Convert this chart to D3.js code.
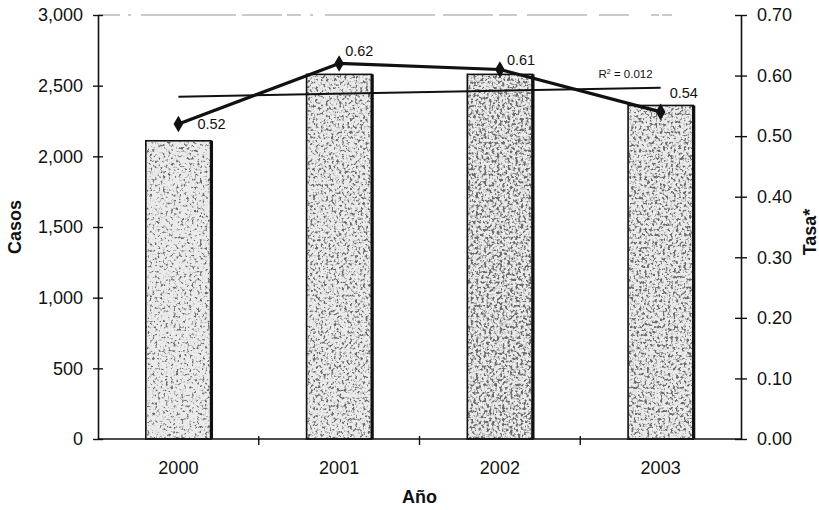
<!DOCTYPE html>
<html>
<head>
<meta charset="utf-8">
<script src="https://cdn.jsdelivr.net/npm/d3@7/dist/d3.min.js"></script>
<style>
  html, body { margin: 0; padding: 0; background: #fff; }
  svg { display: block; }
  text { font-family: "Liberation Sans", Arial, Helvetica, sans-serif; fill: #111; }
</style>
</head>
<body>
<svg id="chart" width="819" height="510"></svg>
<script>
// Casos y tasa por año
const years = ["2000", "2001", "2002", "2003"];
const casos = [2110, 2580, 2580, 2360];
const tasa = [0.52, 0.62, 0.61, 0.54];
const casosTicks = [0, 500, 1000, 1500, 2000, 2500, 3000];
const tasaTicks = [0, 0.1, 0.2, 0.3, 0.4, 0.5, 0.6, 0.7];
const r2Label = "0.012";

// label placement for each rate point (dx, dy in px)
const labelOffsets = [[19, 5], [6, -7], [7, -5], [9, -14]];
// speckle density per bar
const barDensity = [0.22, 0.34, 0.48, 0.40];

const svg = d3.select("#chart");
const m = { left: 98, right: 741, top: 15, bottom: 439 };

const x = d3.scaleBand().domain(years).range([m.left, m.right])
  .paddingInner(0.595).paddingOuter(0.2975);
const yL = d3.scaleLinear().domain([0, 3000]).range([m.bottom, m.top]);
const yR = d3.scaleLinear().domain([0, 0.7]).range([m.bottom, m.top]);
const step = x.step();
const cx = d => x(d) + x.bandwidth() / 2;

// stipple textures
const defs = svg.append("defs");
barDensity.forEach((dens, i) => {
  const f = defs.append("filter").attr("id", "speck" + i)
    .attr("x", 0).attr("y", 0).attr("width", 1).attr("height", 1);
  f.append("feTurbulence").attr("type", "fractalNoise")
    .attr("baseFrequency", 0.38).attr("numOctaves", 3).attr("seed", 3 + i * 7)
    .attr("result", "noise");
  const k = 5;
  const b = -k * (0.6 - dens * 0.3);
  f.append("feColorMatrix").attr("in", "noise").attr("type", "matrix")
    .attr("values", `0 0 0 0 0.15  0 0 0 0 0.15  0 0 0 0 0.15  ${k} 0 0 0 ${b}`)
    .attr("result", "dots0");
  f.append("feGaussianBlur").attr("in", "dots0").attr("stdDeviation", 0.45)
    .attr("result", "dots");
  f.append("feComposite").attr("in", "dots").attr("in2", "SourceGraphic")
    .attr("operator", "in").attr("result", "clipped");
  const merge = f.append("feMerge");
  merge.append("feMergeNode").attr("in", "SourceGraphic");
  merge.append("feMergeNode").attr("in", "clipped");
});

// faint top border of the plot area
svg.append("line")
  .attr("x1", m.left).attr("x2", m.right)
  .attr("y1", m.top).attr("y2", m.top)
  .attr("stroke", "#9a9a9a").attr("stroke-width", 1.5)
  .attr("stroke-dasharray", "22 8 3 10 95 6 40 5 14 9 3 12 110 8 50 6 18 10 60 12 30")
  .attr("opacity", 0.7);

// bars
const bars = svg.append("g");
years.forEach((yr, i) => {
  const x0 = x(yr), w = x.bandwidth(), y0 = yL(casos[i]), h = m.bottom - y0;
  bars.append("rect")
    .attr("x", x0).attr("y", y0).attr("width", w).attr("height", h)
    .attr("fill", "#ebebeb")
    .attr("filter", `url(#speck${i})`);
  bars.append("rect")
    .attr("x", x0).attr("y", y0).attr("width", w).attr("height", h)
    .attr("fill", "none").attr("stroke", "#111").attr("stroke-width", 1.6);
  bars.append("line")
    .attr("x1", x0 + w + 0.5).attr("x2", x0 + w + 0.5)
    .attr("y1", y0).attr("y2", m.bottom)
    .attr("stroke", "#111").attr("stroke-width", 3.2);
});

// axes
const axisStyle = g => {
  g.selectAll("path.domain").attr("stroke", "#111").attr("stroke-width", 1.6);
  g.selectAll(".tick line").attr("stroke", "#111").attr("stroke-width", 1.4);
  g.selectAll(".tick text").attr("font-size", 18).attr("fill", "#111")
    .attr("font-family", '"Liberation Sans", Arial, sans-serif');
};

const gL = svg.append("g").attr("transform", `translate(${m.left},0)`)
  .call(d3.axisLeft(yL).tickValues(casosTicks).tickFormat(d3.format(",")).tickSize(0).tickPadding(15));
gL.call(axisStyle);
gL.selectAll(".tick").append("line").attr("x1", -5).attr("x2", 5)
  .attr("stroke", "#111").attr("stroke-width", 1.4);

const gR = svg.append("g").attr("transform", `translate(${m.right},0)`)
  .call(d3.axisRight(yR).tickValues(tasaTicks).tickFormat(d3.format(".2f")).tickSize(0).tickPadding(16));
gR.call(axisStyle);
gR.selectAll(".tick").append("line").attr("x1", -6).attr("x2", 6)
  .attr("stroke", "#111").attr("stroke-width", 1.4);

const gX = svg.append("g").attr("transform", `translate(0,${m.bottom})`)
  .call(d3.axisBottom(x).tickSize(0).tickPadding(22));
gX.call(axisStyle);
gX.select("path.domain").attr("d", `M${m.left},0H${m.right}`);
// category separators
svg.append("g").selectAll("line")
  .data(years.slice(1))
  .join("line")
  .attr("x1", d => x(d) - x.paddingInner() * step / 2)
  .attr("x2", d => x(d) - x.paddingInner() * step / 2)
  .attr("y1", m.bottom - 3).attr("y2", m.bottom + 6)
  .attr("stroke", "#111").attr("stroke-width", 1.4);

// linear trend of the rate
const xs = years.map((_, i) => i);
const mx = d3.mean(xs), my = d3.mean(tasa);
const slope = d3.sum(xs, (v, i) => (v - mx) * (tasa[i] - my)) / d3.sum(xs, v => (v - mx) ** 2);
const icpt = my - slope * mx;
const trend = [0, years.length - 1].map(i => [cx(years[i]), yR(icpt + slope * i)]);
svg.append("path")
  .attr("d", d3.line()(trend))
  .attr("fill", "none").attr("stroke", "#111").attr("stroke-width", 2);

const r2 = svg.append("text")
  .attr("x", trend[1][0] - 8).attr("y", trend[1][1] - 10)
  .attr("text-anchor", "end").attr("font-size", 11.5);
r2.append("tspan").text("R");
r2.append("tspan").attr("dy", -4).attr("font-size", 7).text("2");
r2.append("tspan").attr("dy", 4).text(" = " + r2Label);

// rate line with diamond markers
const pts = years.map((yr, i) => [cx(yr), yR(tasa[i])]);
svg.append("path")
  .attr("d", d3.line()(pts))
  .attr("fill", "none").attr("stroke", "#111").attr("stroke-width", 3.2)
  .attr("stroke-linejoin", "round");

svg.append("g").selectAll("path")
  .data(pts)
  .join("path")
  .attr("transform", d => `translate(${d[0]},${d[1]})`)
  .attr("d", d3.symbol(d3.symbolDiamond, 80))
  .attr("fill", "#111");

svg.append("g").selectAll("text")
  .data(tasa)
  .join("text")
  .attr("x", (d, i) => pts[i][0] + labelOffsets[i][0])
  .attr("y", (d, i) => pts[i][1] + labelOffsets[i][1])
  .attr("font-size", 14.5)
  .text(d => d3.format(".2f")(d));

// axis titles
svg.append("text")
  .attr("transform", `translate(21,${(m.top + m.bottom) / 2}) rotate(-90)`)
  .attr("text-anchor", "middle").attr("font-size", 18).attr("font-weight", "bold")
  .text("Casos");
svg.append("text")
  .attr("transform", `translate(816,${(m.top + m.bottom) / 2 + 5}) rotate(-90)`)
  .attr("text-anchor", "middle").attr("font-size", 18).attr("font-weight", "bold")
  .text("Tasa*");
svg.append("text")
  .attr("x", (m.left + m.right) / 2).attr("y", 503)
  .attr("text-anchor", "middle").attr("font-size", 18).attr("font-weight", "bold")
  .text("Año");
</script>
</body>
</html>
